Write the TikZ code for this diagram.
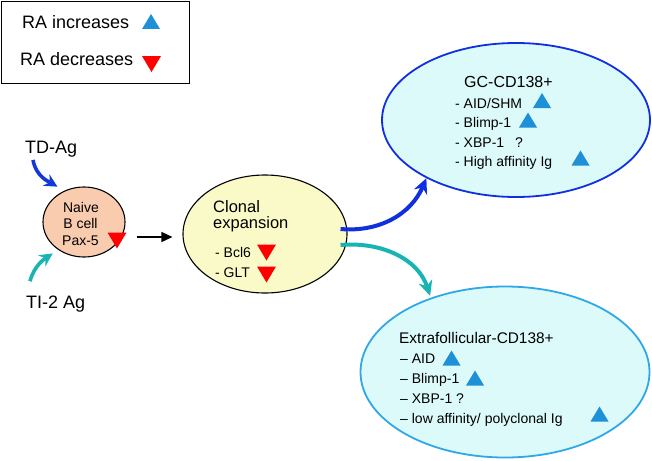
\documentclass[tikz,border=0pt]{standalone}
\usepackage{fontspec}
\setmainfont{Liberation Sans}
\usetikzlibrary{shapes.geometric,arrows.meta}
\definecolor{peach}{HTML}{F9CCAF}
\definecolor{paleyellow}{HTML}{FAFAC8}
\definecolor{palecyan}{HTML}{DCFAFA}
\definecolor{gcblue}{HTML}{1030E0}
\definecolor{efblue}{HTML}{30A8E8}
\definecolor{tdblue}{HTML}{1438D8}
\definecolor{tealarrow}{HTML}{18B4B4}
\definecolor{upblue}{HTML}{1E90D8}
\definecolor{downred}{HTML}{FF0000}
\begin{document}
\begin{tikzpicture}[x=1pt,y=-1pt,
  blob/.style={ellipse, draw, line width=1.1pt, inner sep=0pt},
  lbl/.style={anchor=base west, inner sep=0pt, font=\fontsize{14}{16}\selectfont},
  ctr/.style={anchor=base, inner sep=0pt, font=\fontsize{14}{16}\selectfont},
  big/.style={anchor=base west, inner sep=0pt, font=\fontsize{18}{20}\selectfont},
  uptri/.pic={\fill[upblue] (-9,7.5) -- (9,7.5) -- (0,-7.5) -- cycle;},
  downtri/.pic={\fill[downred] (-9.5,-8) -- (9.5,-8) -- (0,8) -- cycle;},
  fatarrow/.style={line width=4pt, -{Stealth[length=15pt,width=14pt]}},
  smallarrow/.style={line width=3.6pt, -{Stealth[length=13pt,width=13pt]}}
]
\useasboundingbox (0,0) rectangle (652,460);

% legend
\node[draw, line width=1.3pt, minimum width=188pt, minimum height=82pt,
      anchor=north west, inner sep=0pt] (legend) at (1,1) {};
\node[big] (inc) at (22,29) {RA increases};
\node[big] (dec) at (20,66) {RA decreases};
\pic at (151,21.5) {uptri};
\pic at (151.5,64) {downtri};

% ellipses
\node[blob, fill=peach, minimum width=82pt, minimum height=70pt] (naive) at (84,222) {};
\node[blob, fill=paleyellow, minimum width=164pt, minimum height=118pt] (clonal) at (265,234) {};
\node[blob, draw=gcblue, line width=1.8pt, fill=palecyan, minimum width=268pt, minimum height=154pt] (gc) at (516,120) {};
\node[blob, draw=efblue, line width=1.8pt, fill=palecyan, minimum width=289pt, minimum height=171pt] (ef) at (505,372) {};

% antigen labels
\node[big] (tdag) at (25,153) {TD-Ag};
\node[big] (tiag) at (26,308) {TI-2 Ag};

% naive text
\node[ctr] (n1) at (81,212) {Naive};
\node[ctr] (n2) at (80.5,228) {B cell};
\node[ctr] (n3) at (80.5,245) {Pax-5};
\pic at (117,240.5) {downtri};

% clonal text
\node[lbl, font=\fontsize{16.5}{18}\selectfont] (c1) at (213,212) {Clonal};
\node[lbl, font=\fontsize{16.5}{18}\selectfont] (c2) at (213,228) {expansion};
\node[lbl] (c3) at (215,257) {-\ Bcl6};
\node[lbl] (c4) at (215,277) {-\ GLT};
\pic at (266.5,252.5) {downtri};
\pic at (266.5,274.5) {downtri};

% GC text
\node[lbl, font=\fontsize{16}{18}\selectfont] (g0) at (464,87) {GC-CD138+};
\node[lbl] (g1) at (455,108) {-\ AID/SHM};
\node[lbl] (g2) at (455,127) {-\ Blimp-1};
\node[lbl] (g3) at (455,147) {-\ XBP-1\hspace{11pt}?};
\node[lbl] (g4) at (455,166) {-\ High affinity Ig};
\pic at (542,100.5) {uptri};
\pic at (528,120) {uptri};
\pic at (580.5,158) {uptri};

% extrafollicular text
\node[lbl, font=\fontsize{15.4}{18}\selectfont] (e0) at (399,343) {Extrafollicular-CD138+};
\node[lbl] (e1) at (400,363) {–\ AID};
\node[lbl] (e2) at (400,383) {–\ Blimp-1};
\node[lbl] (e3) at (400,403) {–\ XBP-1 ?};
\node[lbl] (e4) at (400,423) {–\ low affinity/ polyclonal Ig};
\pic at (451.5,358) {uptri};
\pic at (475,378) {uptri};
\pic at (599.5,414) {uptri};

% connectors
\draw[tdblue, smallarrow, shorten >=8pt]
  ([xshift=8pt,yshift=-3pt]tdag.south west) to[out=-80,in=150] (naive.122);
\draw[tealarrow, smallarrow, shorten >=6.5pt]
  ([xshift=4pt,yshift=14pt]tiag.north west) to[out=75,in=214] (naive.227);
\draw[line width=1.4pt, -{Triangle[length=11pt,width=10pt]}, shorten <=11pt, shorten >=10pt]
  ([yshift=-15pt]naive.east) -- ([yshift=-3pt]clonal.west);
\draw[gcblue, fatarrow]
  ([xshift=-7pt,yshift=5pt]clonal.east) to[out=-5,in=247] (gc.213);
\draw[tealarrow, fatarrow, shorten >=2pt]
  ([xshift=-7pt,yshift=-11pt]clonal.east) to[out=5,in=108] (ef.135);
\end{tikzpicture}
\end{document}
